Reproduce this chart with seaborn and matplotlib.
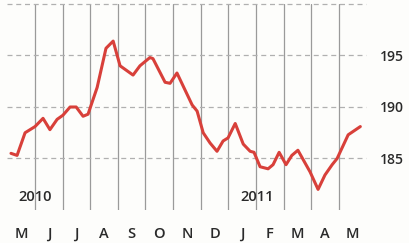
import pandas as pd
import matplotlib.pyplot as plt
import seaborn as sns

# x position in months since start of May 2010 (each month is one band)
month_pos = [0.13, 0.35, 0.64, 1.00, 1.29, 1.54, 1.80, 2.01, 2.27, 2.49, 2.74, 2.92,
             3.25, 3.57, 3.83, 4.08, 4.55, 4.80, 5.16, 5.27, 5.71, 5.89, 6.14, 6.69,
             6.87, 7.09, 7.34, 7.59, 7.81, 7.99, 8.25, 8.54, 8.79, 8.93, 9.15, 9.44,
             9.62, 9.84, 10.09, 10.30, 10.52, 10.96, 11.25, 11.50, 11.76, 11.94,
             12.34, 12.78]
values = [185.5, 185.3, 187.5, 188.1, 188.9, 187.8, 188.8, 189.2, 190.0, 190.0, 189.1, 189.3,
          191.9, 195.7, 196.4, 194.0, 193.1, 194.0, 194.8, 194.7, 192.4, 192.3, 193.3, 190.2,
          189.6, 187.5, 186.5, 185.7, 186.7, 187.0, 188.4, 186.4, 185.7, 185.6, 184.2, 184.0,
          184.4, 185.6, 184.4, 185.3, 185.8, 183.7, 182.0, 183.4, 184.4, 185.0,
          187.3, 188.1]
month_labels = ["M", "J", "J", "A", "S", "O", "N", "D", "J", "F", "M", "A", "M"]
y_ticks = [185, 190, 195]

df = pd.DataFrame({"month": month_pos, "value": values})

sns.set_style("white")
plt.rcParams['font.family'] = ['Open Sans', 'DejaVu Sans']

fig = plt.figure(figsize=(4.09, 2.43), dpi=100, facecolor="#fdfdfb")
ax = fig.add_axes([7.4 / 409, 1 - 210 / 243, 359 / 409, 206 / 243])
ax.set_facecolor("#fdfdfb")

# grid lines
for m in range(1, 13):
    ax.axvline(m, color="#9a9a9a", lw=0.9, zorder=1)
for v in [185, 190, 195, 200]:
    ax.axhline(v, color="#b0b0b0", lw=0.9, ls=(0, (4, 3)), zorder=1, clip_on=False)

sns.lineplot(data=df, x="month", y="value", ax=ax, color="#d8403a", lw=2.2, zorder=3)

ax.set_xlim(0, 13)
ax.set_ylim(180, 200)
ax.set_xlabel("")
ax.set_ylabel("")

ax.set_xticks([m + 0.5 for m in range(13)])
ax.set_xticklabels(month_labels, fontsize=10.5, color="#2a2a2a", fontweight="semibold")
ax.tick_params(axis="x", length=0, pad=12)

ax.yaxis.tick_right()
ax.set_yticks(y_ticks)
ax.set_yticklabels([str(t) for t in y_ticks], fontsize=10, color="#2a2a2a", fontweight="semibold")
ax.tick_params(axis="y", length=0, pad=10)

ax.text(1.0, 180.6, "2010", ha="center", va="bottom", fontsize=10.5, color="#2a2a2a",
        fontweight="semibold")
ax.text(9.05, 180.6, "2011", ha="center", va="bottom", fontsize=10.5, color="#2a2a2a",
        fontweight="semibold")

for s in ax.spines.values():
    s.set_visible(False)

fig.savefig("out.png", dpi=100, facecolor=fig.get_facecolor())
